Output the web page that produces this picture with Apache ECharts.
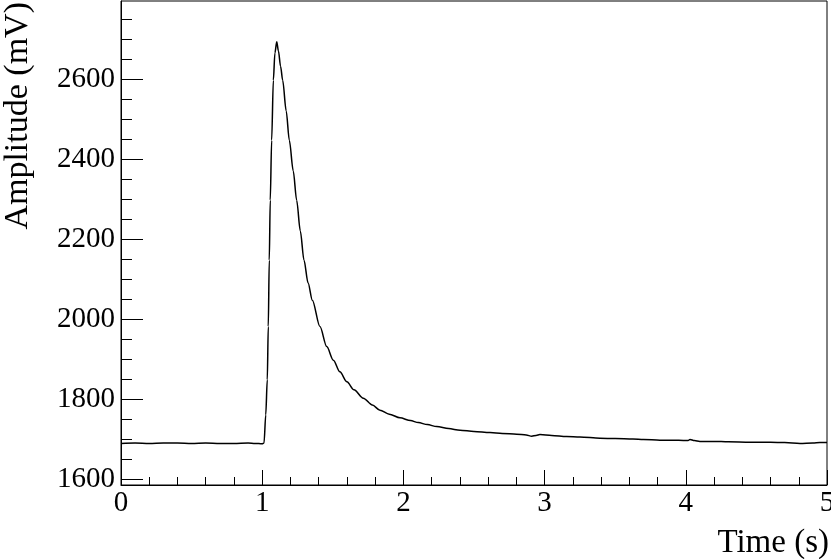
<!DOCTYPE html>
<html>
<head>
<meta charset="utf-8">
<script src="https://cdn.jsdelivr.net/npm/echarts@6/dist/echarts.min.js"></script>
<style>
  html, body { margin: 0; padding: 0; background: #fff; }
  #chart { width: 831px; height: 559px; }
</style>
</head>
<body>
<div id="chart"></div>
<script>
// waveform (time in s, amplitude in mV)
const times = [0, 0.1, 0.2, 0.3, 0.4, 0.5, 0.6, 0.7, 0.8, 0.9, 0.95, 1.0, 1.013, 1.025, 1.036, 1.043, 1.05, 1.057, 1.067, 1.079, 1.09, 1.103, 1.115, 1.13, 1.145, 1.17, 1.192, 1.22, 1.244, 1.27, 1.296, 1.325, 1.355, 1.409, 1.457, 1.504, 1.55, 1.6, 1.65, 1.716, 1.78, 1.834, 1.9, 1.976, 2.05, 2.106, 2.17, 2.236, 2.32, 2.401, 2.5, 2.613, 2.7, 2.802, 2.87, 2.909, 2.94, 2.967, 3.05, 3.156, 3.25, 3.392, 3.5, 3.626, 3.7, 3.817, 3.95, 4.016, 4.03, 4.06, 4.1, 4.2, 4.3, 4.455, 4.6, 4.7, 4.809, 4.9, 4.95, 5.0];
const amplitudes = [1689, 1690, 1689, 1690, 1690, 1689, 1690, 1689, 1689, 1690, 1689, 1688, 1690, 1760, 1848, 1981, 2147, 2297, 2447, 2597, 2665, 2693, 2670, 2632, 2597, 2520, 2447, 2370, 2297, 2220, 2147, 2090, 2047, 1981, 1931, 1897, 1868, 1843, 1823, 1802, 1785, 1772, 1762, 1753, 1746, 1741, 1736, 1731, 1726, 1722, 1719, 1716, 1714, 1712, 1710, 1707, 1709, 1711, 1709, 1706, 1705, 1702, 1701, 1700, 1699, 1697, 1697, 1696, 1699, 1696, 1694, 1694, 1693, 1692, 1692, 1691, 1689, 1690, 1691, 1691];

const yMajorTicks = [1600, 1800, 2000, 2200, 2400, 2600];
const yMinorTicks = [1650, 1700, 1750, 1850, 1900, 1950, 2050, 2100, 2150, 2250, 2300, 2350, 2450, 2500, 2550, 2650, 2700, 2750];

const chart = echarts.init(document.getElementById('chart'));
const font = '"Liberation Serif", "DejaVu Serif", serif';

let option = {
  animation: false,
  backgroundColor: '#fff',
  grid: {
    left: 121,
    right: 4,
    top: 1,
    bottom: 74,
    outerBoundsMode: 'none',
    containLabel: false,
    show: true,
    borderColor: '#000',
    borderWidth: 1
  },
  xAxis: {
    type: 'value',
    min: 0,
    max: 5,
    interval: 1,
    axisLine: { lineStyle: { color: '#000', width: 1 } },
    axisTick: { inside: true, length: 15, lineStyle: { color: '#000' } },
    minorTick: { show: true, splitNumber: 5, length: 8, lineStyle: { color: '#000' } },
    splitLine: { show: false },
    axisLabel: {
      margin: 4,
      color: '#000',
      fontFamily: font,
      fontSize: 29,
      showMinLabel: true,
      showMaxLabel: true,
      formatter: (v) => String(v)
    }
  },
  yAxis: [
    {
      type: 'value',
      min: 1585,
      max: 2795,
      axisLine: { show: true, lineStyle: { color: '#000', width: 1 } },
      axisTick: { show: true, inside: true, length: 22, customValues: yMajorTicks, lineStyle: { color: '#000' } },
      splitLine: { show: false },
      axisLabel: {
        margin: 6,
        color: '#000',
        fontFamily: font,
        fontSize: 29,
        customValues: yMajorTicks,
        formatter: (v) => String(v)
      }
    },
    {
      // minor ticks only
      type: 'value',
      position: 'left',
      min: 1585,
      max: 2795,
      axisLine: { show: false },
      axisTick: { show: true, inside: true, length: 11, customValues: yMinorTicks, lineStyle: { color: '#000' } },
      splitLine: { show: false },
      axisLabel: { show: false }
    }
  ],
  graphic: [
    {
      type: 'text',
      x: 18,
      y: 2,
      rotation: Math.PI / 2,
      style: {
        text: 'Amplitude (mV)',
        fontFamily: font,
        fontSize: 34,
        fill: '#000',
        align: 'right',
        verticalAlign: 'middle'
      }
    },
    {
      type: 'text',
      x: 829,
      y: 543,
      style: {
        text: 'Time (s)',
        fontFamily: font,
        fontSize: 33,
        fill: '#000',
        align: 'right',
        verticalAlign: 'middle'
      }
    }
  ],
  series: [
    {
      type: 'line',
      yAxisIndex: 0,
      showSymbol: false,
      smooth: 0.3,
      smoothMonotone: 'x',
      lineStyle: { color: '#000', width: 1.5 },
      data: times.map((t, i) => [t, amplitudes[i]])
    }
  ]
};

chart.setOption(option);
</script>
</body>
</html>
